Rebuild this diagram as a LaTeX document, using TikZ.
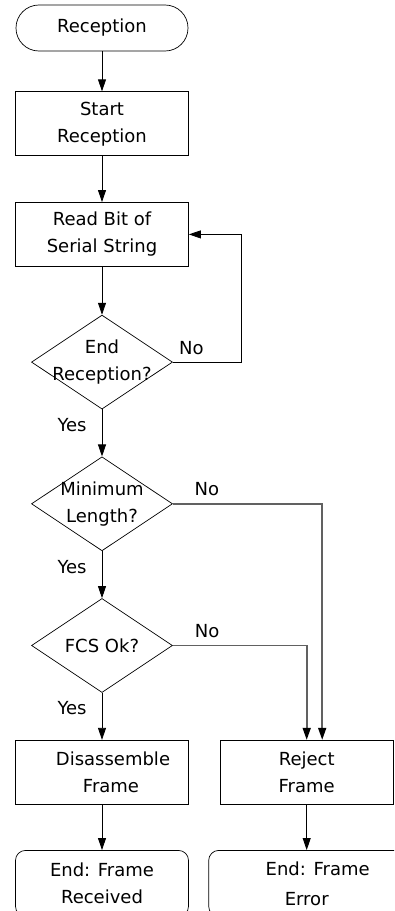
\documentclass[tikz,border=0pt]{standalone}
\usepackage{fontspec}
\setmainfont{DejaVu Sans}
\usetikzlibrary{arrows.meta, positioning, shapes.geometric}

\begin{document}
\begin{tikzpicture}[>={Triangle[length=12pt, width=8pt]}, node distance=47pt and 31pt,
  every node/.style={font=\fontsize{18}{27}\selectfont},
  term/.style={draw, line width=0.7pt, rounded corners=22.9pt, minimum height=46pt, minimum width=172pt},
  proc/.style={draw, line width=0.7pt, minimum height=64pt, minimum width=173pt, align=center},
  decide/.style={draw, line width=0.7pt, diamond, minimum width=141pt, minimum height=94pt, inner sep=0pt},
  stopbox/.style={draw, line width=0.7pt, rounded corners=10pt, minimum height=66pt, align=center},
  lbl/.style={inner sep=0pt},
  flow/.style={->, line width=0.8pt},
  side/.style={-{Triangle[length=12pt, width=8pt, color=black]}, line width=1.6pt, draw=black!62}]
\clip (0,0) rectangle (394pt,-911pt);
% main column
\node[term] (rx) at (102pt,-28pt) {Reception};
\node[proc, below=40pt of rx] (startrx) {Start\\Reception};
\node[proc, below=46pt of startrx] (readbit) {Read Bit of\\Serial String};
\node[decide, below=48pt of readbit, label={[align=center]center:End\\Reception?}] (endrx) {};
\node[decide, below=of endrx, label={[align=center]center:Minimum\\Length?}] (minlen) {};
\node[decide, below=of minlen, label={center:FCS Ok?}] (fcs) {};
\node[proc, below=of fcs] (disasm) {\hspace*{22pt}Disassemble\\\hspace*{18pt}Frame};
\node[stopbox, minimum width=173pt, below=45.5pt of disasm] (recvd) {End: Frame\\Received};
% reject branch
\node[proc, right=of disasm] (reject) {Reject\\Frame};
\node[stopbox, minimum width=196pt, below=45.5pt of reject] (error) {\hspace*{22pt}End: Frame\\[3pt]Error};

\draw[flow] (rx) -- (startrx);
\draw[flow] (startrx) -- (readbit);
\draw[flow] (readbit) -- (endrx);
\draw[flow] (endrx) -- node[lbl, pos=0.33, left=15pt] {Yes} (minlen);
\draw[flow] (minlen) -- node[lbl, pos=0.33, left=15pt] {Yes} (fcs);
\draw[flow] (fcs) -- node[lbl, pos=0.33, left=15pt] {Yes} (disasm);
\draw[flow] (disasm) -- (recvd);
\draw[flow] (reject) -- (error);
\draw[flow] (endrx.east) -- ++(69pt,0) node[lbl, pos=0.27, above=7pt] {No} |- (readbit.east);
\draw[side] (minlen.east) -| node[lbl, pos=0.114, above=7pt] {No} ([xshift=15.5pt]reject.north);
\draw[side] (fcs.east) -| node[lbl, pos=0.128, above=7pt] {No} (reject.north);
\end{tikzpicture}
\end{document}
